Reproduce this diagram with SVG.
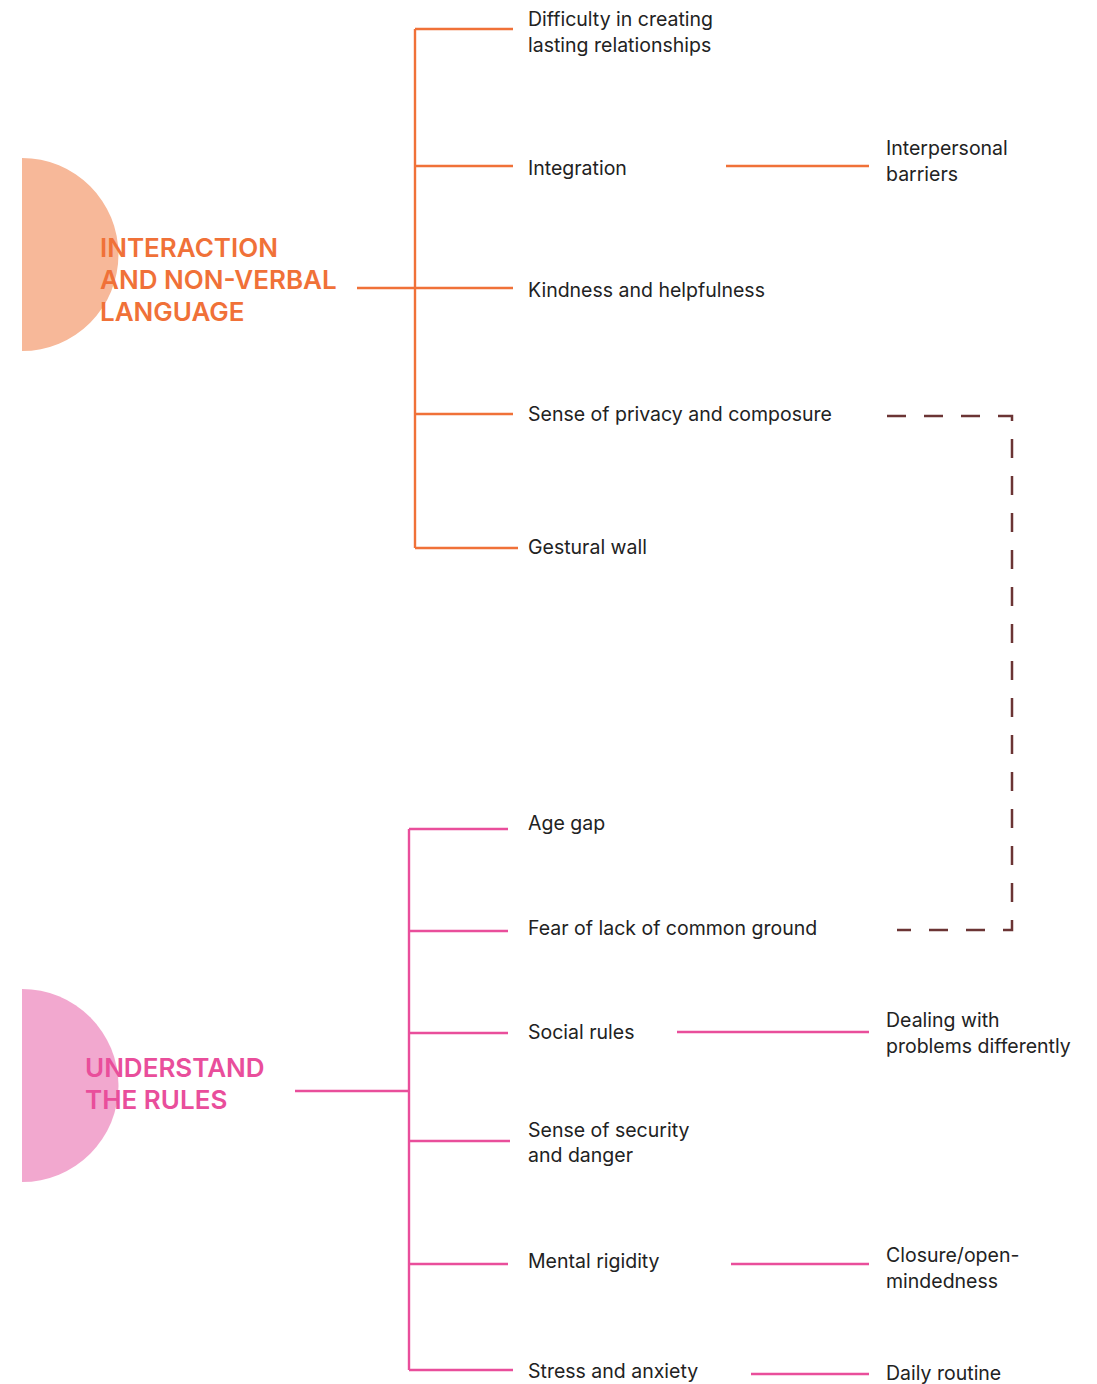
<svg xmlns="http://www.w3.org/2000/svg" width="1097" height="1384" viewBox="0 0 1097 1384">
<style>
.t{font-family:Inter,Roboto,"Liberation Sans",sans-serif;font-size:19.5px;fill:#222}
.h{font-family:Inter,Roboto,"Liberation Sans",sans-serif;font-size:26px;font-weight:600}
.o{stroke:#F07138;stroke-width:2.4;fill:none}
.p{stroke:#E94E9B;stroke-width:2.4;fill:none}
.d{stroke:#6B3434;stroke-width:2.5;fill:none;stroke-dasharray:19 18}
</style>
<rect width="1097" height="1384" fill="#fff"/>
<g id="node-interaction">
<path d="M22 158 A96.5 96.5 0 0 1 22 351 Z" fill="#F7B899"/>
<text class="h" fill="#F07138"><tspan x="100" y="257">INTERACTION</tspan><tspan x="100" y="289">AND NON-VERBAL</tspan><tspan x="100" y="321">LANGUAGE</tspan></text>
</g>
<g id="node-rules">
<path d="M22 989 A96.5 96.5 0 0 1 22 1182 Z" fill="#F2A8CF"/>
<text class="h" fill="#E94E9B"><tspan x="85" y="1077">UNDERSTAND</tspan><tspan x="85" y="1109">THE RULES</tspan></text>
</g>
<g id="connectors">
<path class="o" d="M357 288H415M415 29V548M415 29H513M415 166H513M415 288H513M415 414H513M415 548H518M726 166H869"/>
<path class="p" d="M295 1091H409M409 829V1370M409 829H508M409 931H508M409 1033H508M409 1141H510M409 1264H508M409 1370H513M677 1032H869M731 1264H869M751 1374H869"/>
<path class="d" d="M887 416H1012V930H897"/>
</g>
<g id="node-difficulty"><text class="t"><tspan x="528" y="26">Difficulty in creating</tspan><tspan x="528" y="52">lasting relationships</tspan></text></g>
<g id="node-integration"><text class="t" x="528" y="175">Integration</text></g>
<g id="node-interpersonal"><text class="t"><tspan x="886" y="155">Interpersonal</tspan><tspan x="886" y="181">barriers</tspan></text></g>
<g id="node-kindness"><text class="t" x="528" y="297">Kindness and helpfulness</text></g>
<g id="node-privacy"><text class="t" x="528" y="421">Sense of privacy and composure</text></g>
<g id="node-gestural"><text class="t" x="528" y="554">Gestural wall</text></g>
<g id="node-age"><text class="t" x="528" y="830">Age gap</text></g>
<g id="node-fear"><text class="t" x="528" y="935">Fear of lack of common ground</text></g>
<g id="node-social"><text class="t" x="528" y="1039">Social rules</text></g>
<g id="node-dealing"><text class="t"><tspan x="886" y="1027">Dealing with</tspan><tspan x="886" y="1053">problems differently</tspan></text></g>
<g id="node-security"><text class="t"><tspan x="528" y="1137">Sense of security</tspan><tspan x="528" y="1162">and danger</tspan></text></g>
<g id="node-rigidity"><text class="t" x="528" y="1268">Mental rigidity</text></g>
<g id="node-closure"><text class="t"><tspan x="886" y="1262">Closure/open-</tspan><tspan x="886" y="1288">mindedness</tspan></text></g>
<g id="node-stress"><text class="t" x="528" y="1378">Stress and anxiety</text></g>
<g id="node-daily"><text class="t" x="886" y="1380">Daily routine</text></g>
</svg>
